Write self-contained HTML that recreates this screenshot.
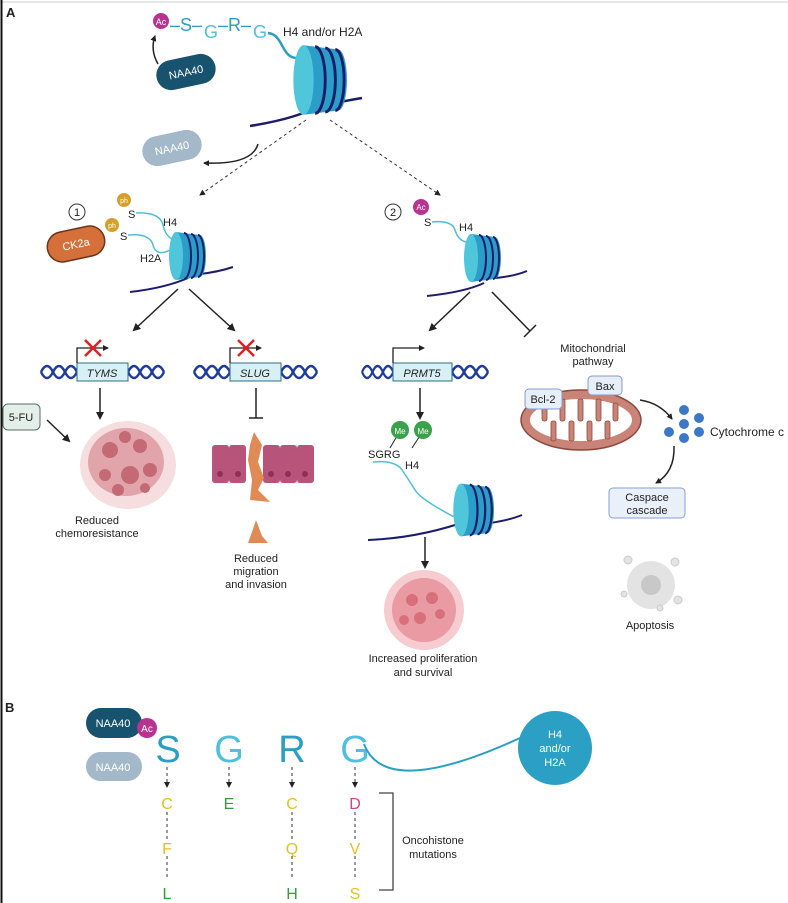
<!DOCTYPE html>
<html><head><meta charset="utf-8"><style>
html,body{margin:0;padding:0;background:#fff}
svg{display:block}
text{font-family:"Liberation Sans",sans-serif;fill:#222}
</style></head><body>
<svg width="788" height="903" viewBox="0 0 788 903" xmlns="http://www.w3.org/2000/svg">
<defs>
<marker id="ah" markerWidth="8" markerHeight="8" refX="6" refY="4" orient="auto" markerUnits="userSpaceOnUse"><path d="M0,0 L8,4 L0,8 Z" fill="#222"/></marker>
<marker id="ahs" markerWidth="6" markerHeight="6" refX="5" refY="3" orient="auto" markerUnits="userSpaceOnUse"><path d="M0,0 L6,3 L0,6 Z" fill="#222"/></marker>
<g id="nuc">
<path d="M-10,-24 L14,-21 A6,21 0 0 1 14,21 L-10,24 Z" fill="#2a9dc8"/>
<ellipse cx="-10" cy="0" rx="7" ry="24" fill="#4fc6da"/>
<path d="M-2,-23 A7,23 0 0 1 -2,23" fill="none" stroke="#1b1d6b" stroke-width="2"/>
<path d="M5,-22 A7,22 0 0 1 5,22" fill="none" stroke="#1b1d6b" stroke-width="2"/>
<path d="M12,-21 A6,21 0 0 1 12,21" fill="none" stroke="#1b1d6b" stroke-width="2"/>
</g>
<g id="hx" fill="none" stroke="#1f3c9a" stroke-width="2.5">
<path d="M0,0 Q6,-12 12,0 T24,0 T36,0"/><path d="M0,0 Q6,12 12,0 T24,0 T36,0"/>
</g>
</defs>
<line x1="0" y1="2" x2="788" y2="2" stroke="#ccc" stroke-width="1"/>
<line x1="1.5" y1="0" x2="1.5" y2="903" stroke="#111" stroke-width="2"/>
<text x="6" y="17" font-size="13" font-weight="bold">A</text>

<!-- top -->
<circle cx="161" cy="21" r="8" fill="#b8338f"/><text x="161" y="25" font-size="9" text-anchor="middle" style="fill:#fff">Ac</text>
<text x="170" y="31" font-size="18" style="fill:#2a9fc4">–S–</text>
<text x="204" y="38" font-size="18" style="fill:#4cc0dc">G</text>
<text x="218" y="31" font-size="18" style="fill:#2a9fc4">–R–</text>
<text x="253" y="38" font-size="18" style="fill:#4cc0dc">G</text>
<text x="283" y="36" font-size="12">H4 and/or H2A</text>
<path d="M268,33 C285,35 280,60 300,58" fill="none" stroke="#2a9fc4" stroke-width="2.5"/>
<path d="M250,126 Q300,118 322,104" fill="none" stroke="#1b1d6b" stroke-width="2.5"/>
<path d="M335,103 Q350,100 362,98" fill="none" stroke="#1b1d6b" stroke-width="2.5"/>
<use href="#nuc" transform="translate(318,80) scale(1.45)"/>
<g transform="translate(186,72) rotate(-12)"><rect x="-30" y="-15" width="60" height="30" rx="15" fill="#17526e"/><text x="0" y="4" font-size="11" text-anchor="middle" style="fill:#fff">NAA40</text></g>
<path d="M158,64 Q150,50 155,36" fill="none" stroke="#222" stroke-width="1.5" marker-end="url(#ahs)"/>
<g transform="translate(172,148) rotate(-12)"><rect x="-30" y="-15" width="60" height="30" rx="15" fill="#a3b8c8"/><text x="0" y="4" font-size="11" text-anchor="middle" style="fill:#fff">NAA40</text></g>
<path d="M258,144 Q252,165 204,163" fill="none" stroke="#222" stroke-width="1.5" marker-end="url(#ahs)"/>
<line x1="306" y1="120" x2="200" y2="195" stroke="#333" stroke-dasharray="3,3" marker-end="url(#ahs)"/>
<line x1="330" y1="120" x2="440" y2="195" stroke="#333" stroke-dasharray="3,3" marker-end="url(#ahs)"/>

<!-- panel 1 -->
<circle cx="77" cy="212" r="8" fill="none" stroke="#333"/><text x="77" y="216" font-size="11" text-anchor="middle">1</text>
<circle cx="124" cy="200" r="7" fill="#d4a028"/><text x="124" y="203" font-size="7" text-anchor="middle" style="fill:#fff">ph</text>
<circle cx="112" cy="225" r="7" fill="#d4a028"/><text x="112" y="228" font-size="7" text-anchor="middle" style="fill:#fff">ph</text>
<text x="128" y="218" font-size="11">S</text><text x="120" y="240" font-size="11">S</text>
<path d="M136,213 Q160,212 163,225 T175,240" fill="none" stroke="#4cbfd8" stroke-width="1.5"/>
<path d="M128,235 Q150,233 153,245 T170,250" fill="none" stroke="#4cbfd8" stroke-width="1.5"/>
<text x="163" y="226" font-size="11">H4</text><text x="140" y="262" font-size="11">H2A</text>
<g transform="translate(76,244) rotate(-12)"><rect x="-29" y="-15" width="58" height="30" rx="15" fill="#d5703a" stroke="#6b3418" stroke-width="1.5"/><text x="0" y="4" font-size="11" text-anchor="middle" style="fill:#fff">CK2a</text></g>
<path d="M130,292 Q165,288 188,278" fill="none" stroke="#1b1d6b" stroke-width="2"/>
<path d="M200,274 Q218,272 233,267" fill="none" stroke="#1b1d6b" stroke-width="2"/>
<use href="#nuc" transform="translate(186,256)"/>
<line x1="178" y1="289" x2="134" y2="330" stroke="#222" stroke-width="1.5" marker-end="url(#ah)"/>
<line x1="189" y1="289" x2="234" y2="330" stroke="#222" stroke-width="1.5" marker-end="url(#ah)"/>

<!-- helices -->
<use href="#hx" transform="translate(41,372)"/><use href="#hx" transform="translate(128,372)"/>
<use href="#hx" transform="translate(194,372)"/><use href="#hx" transform="translate(281,372)"/>
<use href="#hx" transform="translate(362,372) scale(0.87,1)"/><use href="#hx" transform="translate(452,372)"/>
<rect x="77" y="363" width="51" height="18" fill="#d6f0f6" stroke="#2d6c80"/><text x="102" y="377" font-size="11" font-style="italic" text-anchor="middle">TYMS</text>
<rect x="230" y="363" width="51" height="18" fill="#d6f0f6" stroke="#2d6c80"/><text x="255" y="377" font-size="11" font-style="italic" text-anchor="middle">SLUG</text>
<rect x="393" y="363" width="59" height="18" fill="#d6f0f6" stroke="#2d6c80"/><text x="422" y="377" font-size="11" font-style="italic" text-anchor="middle">PRMT5</text>
<g fill="none" stroke="#222" stroke-width="1.3">
<path d="M77,363 V348 H108" marker-end="url(#ahs)"/><path d="M230,363 V348 H261" marker-end="url(#ahs)"/><path d="M393,363 V348 H424" marker-end="url(#ahs)"/>
</g>
<g stroke="#e02020" stroke-width="2.5"><line x1="85" y1="340" x2="101" y2="356"/><line x1="101" y1="340" x2="85" y2="356"/><line x1="238" y1="340" x2="254" y2="356"/><line x1="254" y1="340" x2="238" y2="356"/></g>

<line x1="100" y1="388" x2="100" y2="418" stroke="#222" stroke-width="1.5" marker-end="url(#ah)"/>
<rect x="3" y="404" width="37" height="26" rx="5" fill="#e4efe9" stroke="#5a6b66"/><text x="21" y="421" font-size="11" text-anchor="middle">5-FU</text>
<line x1="47" y1="420" x2="69" y2="441" stroke="#222" stroke-width="1.5" marker-end="url(#ah)"/>
<g>
<ellipse cx="128" cy="465" rx="48" ry="44" fill="#f6dde0"/>
<ellipse cx="126" cy="462" rx="38" ry="34" fill="#e0a4aa"/>
<g fill="#c46a74"><circle cx="110" cy="450" r="8"/><circle cx="140" cy="446" r="7"/><circle cx="130" cy="475" r="9"/><circle cx="105" cy="475" r="6"/><circle cx="150" cy="470" r="7"/><circle cx="125" cy="437" r="6"/><circle cx="118" cy="490" r="6"/><circle cx="145" cy="488" r="5"/></g>
</g>
<text x="97" y="524" font-size="11" text-anchor="middle">Reduced</text><text x="97" y="537" font-size="11" text-anchor="middle">chemoresistance</text>

<line x1="256" y1="388" x2="256" y2="418" stroke="#222" stroke-width="1.5"/><line x1="249" y1="418" x2="263" y2="418" stroke="#222" stroke-width="1.5"/>
<g fill="#b8547a">
<rect x="212" y="445" width="17" height="38" rx="3"/><rect x="229" y="445" width="17" height="38" rx="3"/>
<rect x="263" y="445" width="17" height="38" rx="3"/><rect x="280" y="445" width="17" height="38" rx="3"/><rect x="297" y="445" width="17" height="38" rx="3"/>
</g>
<g fill="#8f2f57"><circle cx="220" cy="474" r="3"/><circle cx="238" cy="474" r="3"/><circle cx="271" cy="474" r="3"/><circle cx="288" cy="474" r="3"/><circle cx="305" cy="474" r="3"/></g>
<g fill="#e08a55"><path d="M254,432 L262,445 L258,462 L264,478 L258,490 L270,502 L250,500 L252,480 L248,460 L250,445 Z"/><path d="M256,520 L262,536 L268,543 L248,543 L252,532 Z"/></g>
<text x="256" y="562" font-size="11" text-anchor="middle">Reduced</text><text x="256" y="575" font-size="11" text-anchor="middle">migration</text><text x="256" y="588" font-size="11" text-anchor="middle">and invasion</text>

<!-- panel 2 -->
<circle cx="393" cy="212" r="8" fill="none" stroke="#333"/><text x="393" y="216" font-size="11" text-anchor="middle">2</text>
<circle cx="421" cy="207" r="8" fill="#b8338f"/><text x="421" y="210" font-size="8" text-anchor="middle" style="fill:#fff">Ac</text>
<text x="424" y="226" font-size="11">S</text>
<path d="M432,222 Q452,220 455,230 T466,242" fill="none" stroke="#4cbfd8" stroke-width="1.5"/>
<text x="459" y="231" font-size="11">H4</text>
<path d="M427,296 Q465,292 484,283" fill="none" stroke="#1b1d6b" stroke-width="2"/>
<path d="M496,278 Q515,276 527,271" fill="none" stroke="#1b1d6b" stroke-width="2"/>
<use href="#nuc" transform="translate(481,258)"/>
<line x1="470" y1="292" x2="430" y2="330" stroke="#222" stroke-width="1.5" marker-end="url(#ah)"/>
<line x1="492" y1="292" x2="530" y2="331" stroke="#222" stroke-width="1.5"/><line x1="524" y1="337" x2="536" y2="325" stroke="#222" stroke-width="1.5"/>
<line x1="420" y1="388" x2="420" y2="418" stroke="#222" stroke-width="1.5" marker-end="url(#ah)"/>
<line x1="400" y1="431" x2="390" y2="448" stroke="#222"/><line x1="423" y1="431" x2="412" y2="448" stroke="#222"/>
<circle cx="400" cy="430" r="9" fill="#3aa24a"/><text x="400" y="434" font-size="8" text-anchor="middle" style="fill:#fff">Me</text>
<circle cx="423" cy="430" r="9" fill="#3aa24a"/><text x="423" y="434" font-size="8" text-anchor="middle" style="fill:#fff">Me</text>
<text x="368" y="458" font-size="11">SGRG</text>
<path d="M373,462 Q395,460 402,470 T415,490 T460,520" fill="none" stroke="#4cbfd8" stroke-width="1.5"/>
<text x="405" y="469" font-size="11">H4</text>
<path d="M368,540 Q420,538 470,520" fill="none" stroke="#1b1d6b" stroke-width="2"/>
<path d="M490,523 Q510,520 522,515" fill="none" stroke="#1b1d6b" stroke-width="2"/>
<use href="#nuc" transform="translate(472,510) scale(1.1)"/>
<line x1="425" y1="537" x2="425" y2="567" stroke="#222" stroke-width="1.5" marker-end="url(#ah)"/>
<circle cx="424" cy="610" r="40" fill="#f6ccd0"/><circle cx="424" cy="610" r="32" fill="#ea9aa2"/>
<g fill="#d8707c"><circle cx="412" cy="600" r="6"/><circle cx="432" cy="598" r="6"/><circle cx="420" cy="618" r="6"/><circle cx="440" cy="614" r="5"/><circle cx="404" cy="620" r="5"/></g>
<text x="423" y="662" font-size="11" text-anchor="middle">Increased proliferation</text><text x="423" y="676" font-size="11" text-anchor="middle">and survival</text>

<text x="593" y="352" font-size="11" text-anchor="middle">Mitochondrial</text><text x="593" y="365" font-size="11" text-anchor="middle">pathway</text>
<ellipse cx="581" cy="420" rx="60" ry="30" fill="#c98477" stroke="#8b4a3d" stroke-width="1.5"/>
<ellipse cx="581" cy="420" rx="51" ry="21" fill="#fff"/>
<g fill="#c98477" stroke="#8b4a3d" stroke-width="0.8">
<rect x="542" y="399" width="5" height="22" rx="2"/><rect x="560" y="399" width="5" height="22" rx="2"/><rect x="578" y="399" width="5" height="22" rx="2"/><rect x="596" y="399" width="5" height="22" rx="2"/><rect x="613" y="403" width="5" height="18" rx="2"/>
<rect x="551" y="421" width="5" height="20" rx="2"/><rect x="569" y="421" width="5" height="20" rx="2"/><rect x="587" y="421" width="5" height="20" rx="2"/><rect x="605" y="421" width="5" height="18" rx="2"/>
</g>
<rect x="525" y="389" width="37" height="20" rx="4" fill="#e6eef8" stroke="#8898cc"/><text x="543" y="403" font-size="11" text-anchor="middle">Bcl-2</text>
<rect x="588" y="376" width="34" height="19" rx="4" fill="#e6eef8" stroke="#8898cc"/><text x="605" y="390" font-size="11" text-anchor="middle">Bax</text>
<path d="M640,400 Q660,403 672,419" fill="none" stroke="#222" stroke-width="1.5" marker-end="url(#ahs)"/>
<g fill="#3b78c8"><circle cx="684" cy="410" r="5"/><circle cx="684" cy="424" r="5"/><circle cx="699" cy="418" r="5"/><circle cx="669" cy="432" r="5"/><circle cx="684" cy="438" r="5"/><circle cx="699" cy="432" r="5"/></g>
<text x="710" y="436" font-size="12">Cytochrome c</text>
<path d="M674,446 Q675,472 656,483" fill="none" stroke="#222" stroke-width="1.5" marker-end="url(#ahs)"/>
<rect x="609" y="488" width="76" height="30" rx="4" fill="#eaf0fa" stroke="#8b9ed0"/><text x="647" y="501" font-size="11" text-anchor="middle">Caspace</text><text x="647" y="514" font-size="11" text-anchor="middle">cascade</text>
<circle cx="651" cy="585" r="24" fill="#e3e3e3"/><circle cx="651" cy="585" r="10" fill="#c8c8c8"/>
<g fill="#e3e3e3" stroke="#ccc"><circle cx="628" cy="560" r="4"/><circle cx="675" cy="562" r="4"/><circle cx="624" cy="594" r="3"/><circle cx="678" cy="600" r="4"/><circle cx="660" cy="608" r="3"/></g>
<text x="650" y="629" font-size="11" text-anchor="middle">Apoptosis</text>

<!-- B -->
<text x="5" y="712" font-size="13" font-weight="bold">B</text>
<rect x="86" y="708" width="56" height="30" rx="15" fill="#17526e"/><text x="113" y="727" font-size="11" text-anchor="middle" style="fill:#fff">NAA40</text>
<circle cx="147" cy="728" r="10" fill="#b8338f"/><text x="147" y="732" font-size="10" text-anchor="middle" style="fill:#fff">Ac</text>
<rect x="86" y="752" width="56" height="29" rx="14.5" fill="#a3b8c8"/><text x="113" y="771" font-size="11" text-anchor="middle" style="fill:#fff">NAA40</text>
<text x="168" y="762" font-size="38" text-anchor="middle" style="fill:#2a9fc4">S</text>
<text x="229" y="762" font-size="38" text-anchor="middle" style="fill:#4cc0dc">G</text>
<text x="292" y="762" font-size="38" text-anchor="middle" style="fill:#2a9fc4">R</text>
<text x="355" y="762" font-size="38" text-anchor="middle" style="fill:#4cc0dc">G</text>
<path d="M364,744 Q385,800 520,738" fill="none" stroke="#2a9fc4" stroke-width="2"/>
<circle cx="555" cy="748" r="37" fill="#2b9fc4"/>
<text x="555" y="738" font-size="11" text-anchor="middle" style="fill:#fff">H4</text><text x="555" y="752" font-size="11" text-anchor="middle" style="fill:#fff">and/or</text><text x="555" y="766" font-size="11" text-anchor="middle" style="fill:#fff">H2A</text>
<g stroke="#333" stroke-dasharray="3,3">
<line x1="167" y1="767" x2="167" y2="787" marker-end="url(#ahs)"/><line x1="229" y1="767" x2="229" y2="787" marker-end="url(#ahs)"/><line x1="292" y1="767" x2="292" y2="787" marker-end="url(#ahs)"/><line x1="355" y1="767" x2="355" y2="787" marker-end="url(#ahs)"/>
<line x1="167" y1="812" x2="167" y2="839"/><line x1="167" y1="856" x2="167" y2="880"/>
<line x1="292" y1="812" x2="292" y2="839"/><line x1="292" y1="856" x2="292" y2="880"/>
<line x1="355" y1="812" x2="355" y2="839"/><line x1="355" y1="856" x2="355" y2="880"/>
</g>
<g font-size="16" text-anchor="middle">
<text x="167" y="809" style="fill:#e6c020">C</text><text x="167" y="854" style="fill:#e6c020">F</text><text x="167" y="899" style="fill:#3a9a3a">L</text>
<text x="229" y="809" style="fill:#3a9a3a">E</text>
<text x="292" y="809" style="fill:#e6c020">C</text><text x="292" y="854" style="fill:#e6c020">Q</text><text x="292" y="899" style="fill:#3a9a3a">H</text>
<text x="355" y="809" style="fill:#d6408a">D</text><text x="355" y="854" style="fill:#e6c020">V</text><text x="355" y="899" style="fill:#e6c020">S</text>
</g>
<path d="M379,793 H393 V890 H379" fill="none" stroke="#444" stroke-width="1.3"/>
<text x="433" y="844" font-size="11" text-anchor="middle">Oncohistone</text><text x="433" y="858" font-size="11" text-anchor="middle">mutations</text>
</svg>
</body></html>
